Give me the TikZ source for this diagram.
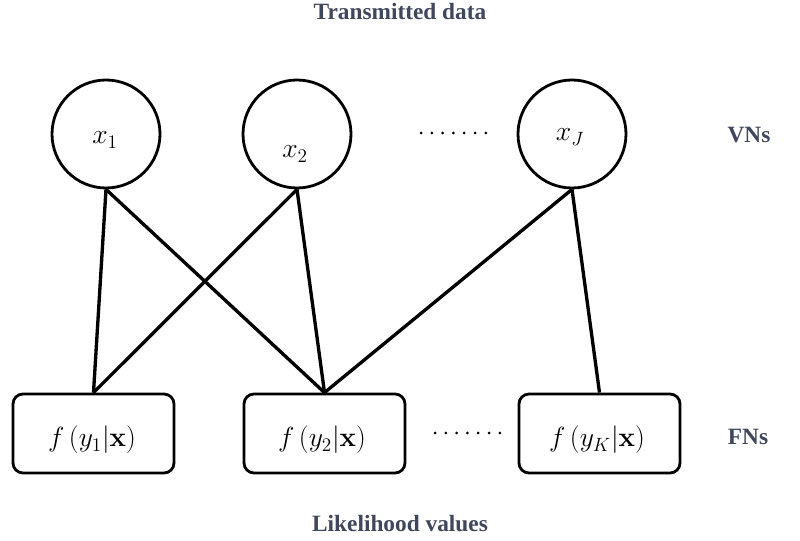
\documentclass[tikz,border=0pt]{standalone}
\usepackage[no-math]{fontspec}
\usepackage{amsmath}
\newfontfamily\labelfont{Liberation Serif}
\definecolor{labelgray}{RGB}{64,70,92}
\begin{document}
\begin{tikzpicture}[x=0.75pt,y=-0.75pt,
  vnode/.style={draw,circle,line width=2.1pt,minimum size=81pt,inner sep=0pt},
  fnode/.style={draw,rectangle,rounded corners=7.5pt,line width=2.1pt,
    minimum width=120.75pt,minimum height=59.25pt,inner sep=0pt},
  mathtext/.style={inner sep=0pt,font=\fontsize{20.5}{24}\selectfont},
  side/.style={inner sep=0pt,text=labelgray,font=\labelfont\bfseries\fontsize{17.5}{21}\selectfont},
  edge/.style={line width=2.5pt}]
\useasboundingbox (0,0) rectangle (800,541);

% variable nodes
\node[vnode] (v1) at (106,134) {};
\node[vnode] (v2) at (297,134) {};
\node[vnode] (vJ) at (572,134) {};
\node[mathtext] (v1t) at (105,140) {$x_1$};
\node[mathtext] (v2t) at (295,154) {$x_2$};
\node[mathtext] (vJt) at (570,137) {$x_J$};

% factor nodes
\node[fnode] (f1) at (93.5,433.5) {};
\node[fnode] (f2) at (324.5,433.5) {};
\node[fnode] (fK) at (599.5,433.5) {};
\node[mathtext] (f1t) at (92,440) {$f\left(y_1|\mathbf{x}\right)$};
\node[mathtext] (f2t) at (322,440) {$f\left(y_2|\mathbf{x}\right)$};
\node[mathtext] (fKt) at (597,440) {$f\left(y_K|\mathbf{x}\right)$};

% edges of the factor graph
\draw[edge] (v1.south) -- (f1.north);
\draw[edge] (v1.south) -- (f2.north);
\draw[edge] (v2.south) -- (f1.north);
\draw[edge] (v2.south) -- (f2.north);
\draw[edge] (vJ.south) -- (f2.north);
\draw[edge] (vJ.south) -- (fK.north);

% ellipsis dots between nodes
\foreach \i in {0,...,6} {
  \fill (421+10.8*\i,133) circle (1.5);
  \fill (435+10.8*\i,433) circle (1.5);
}

% side labels
\node[side] (title) at (400,12) {Transmitted data};
\node[side] (bottom) at (400,524) {Likelihood values};
\node[side] (vns) at (749,135) {VNs};
\node[side] (fns) at (748,437) {FNs};
\end{tikzpicture}
\end{document}
